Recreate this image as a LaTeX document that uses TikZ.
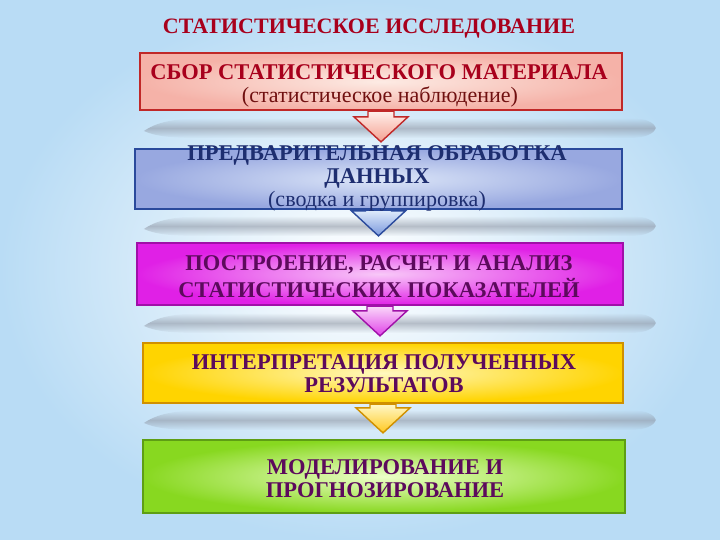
\documentclass[tikz,border=0pt]{standalone}
\usepackage{fontspec}
\setmainfont{Liberation Serif}
\usetikzlibrary{calc,fadings}
\tikzfading[name=bandfade, top color=transparent!100, bottom color=transparent!100, middle color=transparent!40]
\definecolor{bgblue}{HTML}{B9DCF5}
\definecolor{bandgray}{HTML}{9098A6}
\definecolor{redline}{HTML}{C02828}
\definecolor{redtext}{HTML}{A8001C}
\definecolor{redsub}{HTML}{701010}
\definecolor{blueline}{HTML}{2A4A9C}
\definecolor{bluetext}{HTML}{1E2E70}
\definecolor{magline}{HTML}{A010A8}
\definecolor{purptext}{HTML}{5C0A5C}
\definecolor{yelline}{HTML}{D09000}
\definecolor{grnline}{HTML}{5E9E14}
\definecolor{rin}{HTML}{FDEBE4}\definecolor{rout}{HTML}{F5B2A8}
\definecolor{bin}{HTML}{DCE6F8}\definecolor{bout}{HTML}{98A8E0}
\definecolor{min}{HTML}{F8C8F8}\definecolor{mout}{HTML}{E020E6}
\definecolor{yin}{HTML}{FFF8C0}\definecolor{yout}{HTML}{FFD400}
\definecolor{gin}{HTML}{ECFFC8}\definecolor{gout}{HTML}{88D820}
\definecolor{ratop}{HTML}{FFF0EC}\definecolor{rabot}{HTML}{F4A090}
\definecolor{batop}{HTML}{E0ECFC}\definecolor{babot}{HTML}{7A98DC}
\definecolor{matop}{HTML}{FAD8FA}\definecolor{mabot}{HTML}{E040E8}
\definecolor{yatop}{HTML}{FFF8C8}\definecolor{yabot}{HTML}{FFC820}
\newcommand{\blockarr}[3]{%
  \coordinate (#1tip) at ($(#1.south |- #2.north)+(0,-6)$);
  \draw[arrowbase,#3] ($(#1.south)+(-13,0)$) -- ($(#1tip)+(-13,-25)$) -- ($(#1tip)+(-27,-25)$)
    -- (#1tip) -- ($(#1tip)+(27,-25)$) -- ($(#1tip)+(13,-25)$) -- ($(#1.south)+(13,0)$) -- cycle;}
\newcommand{\shadowband}[1]{%
  \fill[band] (144,#1+13) .. controls (160,#1+2) and (180,#1) .. (220,#1) -- (630,#1)
    .. controls (645,#1) and (654,#1+4) .. (656,#1+10) .. controls (654,#1+16) and (645,#1+20) .. (630,#1+20)
    -- (200,#1+20) .. controls (170,#1+20) and (155,#1+18) .. cycle;}
\begin{document}
\begin{tikzpicture}[x=1pt,y=-1pt,
  boxbase/.style={rectangle, line width=2.2pt, inner sep=0pt},
  arrowbase/.style={line width=1.4pt, line join=miter},
  band/.style={bandgray, path fading=bandfade},
  boldtext/.style={font=\bfseries\fontsize{22.5}{23}\selectfont, align=center},
  subtext/.style={font=\fontsize{22}{24}\selectfont}]
\useasboundingbox (0,0) rectangle (720,540);
\shade[inner color=white, outer color=bgblue] (0,0) rectangle (720,540);
% shadow bands
\shadowband{118}
\shadowband{216}
\shadowband{313}
\shadowband{410}
% title
\node[font=\bfseries\fontsize{22}{24}\selectfont, text=redtext] (title) at (369,29) {СТАТИСТИЧЕСКОЕ ИССЛЕДОВАНИЕ};
% boxes
\node[boxbase, minimum width=482pt, minimum height=57pt, draw=redline, inner color=rin, outer color=rout] (b1) at (381,81.5) {};
\node[boxbase, minimum width=487pt, minimum height=60pt, draw=blueline, inner color=bin, outer color=bout] (b2) at (378.5,179) {};
\node[boxbase, minimum width=486pt, minimum height=62pt, draw=magline, inner color=min, outer color=mout] (b3) at (380,274) {};
\node[boxbase, minimum width=480pt, minimum height=60pt, draw=yelline, inner color=yin, outer color=yout] (b4) at (383,373) {};
\node[boxbase, minimum width=482pt, minimum height=73pt, draw=grnline, inner color=gin, outer color=gout] (b5) at (384,476.5) {};
% arrows
\blockarr{b1}{b2}{draw=redline, top color=ratop, bottom color=rabot}
\blockarr{b2}{b3}{draw=blueline, top color=batop, bottom color=babot}
\blockarr{b3}{b4}{draw=magline, top color=matop, bottom color=mabot}
\blockarr{b4}{b5}{draw=yelline, top color=yatop, bottom color=yabot}
% texts
\node[boldtext, text=redtext] (t1a) at (379,72) {СБОР СТАТИСТИЧЕСКОГО МАТЕРИАЛА};
\node[subtext, text=redsub] (t1b) at (380,97) {(статистическое наблюдение)};
\node[boldtext, text=bluetext] (t2a) at (377,167) {ПРЕДВАРИТЕЛЬНАЯ ОБРАБОТКА\\ДАННЫХ};
\node[subtext, text=bluetext] (t2b) at (377,201) {(сводка и группировка)};
\node[boldtext, font=\bfseries\fontsize{22.5}{27}\selectfont, text=purptext] (t3) at (379,276.5) {ПОСТРОЕНИЕ, РАСЧЕТ И АНАЛИЗ\\СТАТИСТИЧЕСКИХ ПОКАЗАТЕЛЕЙ};
\node[boldtext, text=purptext] (t4) at (384,373.5) {ИНТЕРПРЕТАЦИЯ ПОЛУЧЕННЫХ\\РЕЗУЛЬТАТОВ};
\node[boldtext, text=purptext] (t5) at (385,478.5) {МОДЕЛИРОВАНИЕ И\\ПРОГНОЗИРОВАНИЕ};
\end{tikzpicture}
\end{document}
